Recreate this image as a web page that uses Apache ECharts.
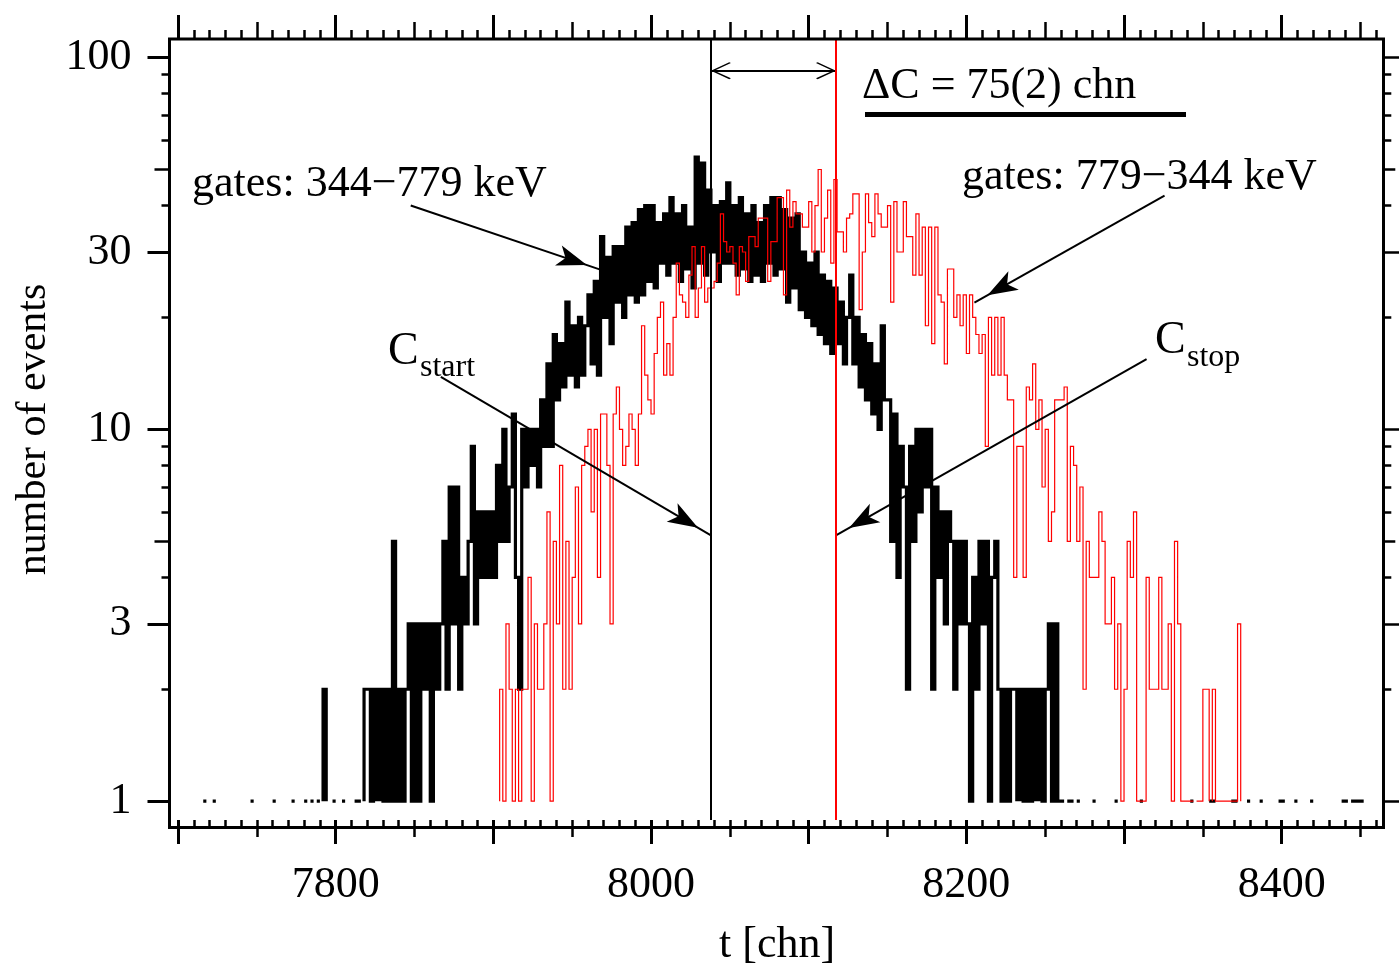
<!DOCTYPE html>
<html>
<head>
<meta charset="utf-8">
<script src="https://cdn.jsdelivr.net/npm/echarts@6/dist/echarts.min.js"></script>
<style>html,body{margin:0;padding:0;background:#fff}#chart{width:1399px;height:972px}</style>
</head>
<body>
<div id="chart"></div>
<script>
// ---------------- data (counts per 2-channel bin) ----------------
const binWidth = 2;
const blackStart = 7710;   // gates: 344-779 keV
const blackCounts = [
  0,0,0,1,0,  0,1,0,0,0,  0,0,0,0,0,  0,0,0,1,0,  0,0,0,0,0,   // 7710-7759
  1,0,0,0,0,  0,1,0,0,0,  1,0,1,0,1,  0,2,0,0,1,                 // 7760-7799
  0,0,1,0,0,  0,1,1,0,2,  2,1,2,0,2,  1,2,1,5,1,  2,1,2,3,1,   // 7800-7849
  3,1,3,2,3,  1,3,2,3,5,  2,7,3,7,2,  4,3,5,9,3,  6,4,6,4,6,   // 7850-7899
  4,8,5,10,5, 7,11,4,2,10, 7,10,8,10,7, 12,9,15,9,18, 12,17,13,22,14,  // 7900-7949
  19,13,20,14,19, 23,15,25,14,33, 20,29,17,31,22, 31,20,35,23,36, 22,39,23,40,25, // 7950-7999
  40,24,36,28,38, 26,42,28,38,25, 40,27,35,24,54, 28,52,26,44,30, 40,25,41,28,46, // 8000-8049
  28,40,26,42,27, 38,25,40,26,36, 25,40,28,42,26, 42,27,39,22,37, 24,38,21,30,20, // 8050-8099
  28,19,30,18,26, 17,25,16,24,17, 22,15,20,26,15, 20,13,18,12,17, 11,15,10,19,12, // 8100-8149
  12,5,11,4,9, 7,2,9,5,10, 6,10,7,10,2, 7,4,6,3,6, 5,2,5,3,5,                     // 8150-8199
  3,1,4,2,5, 3,5,1,4,5, 2,1,2,1,2, 2,0,2,1,2, 1,2,0,2,1,                          // 8200-8249
  2,3,1,3,1, 1,0,1,1,0, 1,0,0,0,0, 1,0,0,0,0, 0,0,1,0,0,                          // 8250-8299
  0,0,0,0,0, 1,0,0,0,0, 0,0,0,0,0, 0,0,0,0,0, 0,1,0,0,0,                          // 8300-8349
  0,0,1,1,0, 0,0,0,0,1, 1,0,0,0,1, 0,0,0,1,0, 0,0,0,0,1,                          // 8350-8399
  1,0,0,0,1, 0,0,0,0,1, 0,0,0,0,0, 0,0,0,0,1, 1,0,1,1,1, 1,0,0,0,0                // 8400-8459
];
const redStart = 7900;     // gates: 779-344 keV
const redCounts = [
  0,0,2,1,3, 2,1,2,1,2, 2,4,1,3,2, 2,3,6,1,5, 3,8,2,5,2,                          // 7900-7949
  4,7,3,8,9, 10,6,10,4,11, 11,8,3,11,13, 10,8,9,11,10, 8,11,19,14,12,             // 7950-7999
  11,16,20,22,14, 17,14,20,28,23, 22,20,26,31,20, 24,31,22,24,24, 25,28,38,32,30, // 8000-8049
  31,28,23,31,30, 25,33,33,31,37, 37,37,25,32,32, 42,42,23,44,35, 41,38,38,35,35, // 8050-8099
  41,30,40,50,30, 37,44,28,47,34, 34,30,37,38,43, 43,21,30,43,36, 33,43,38,35,35, // 8100-8149
  40,22,41,30,30, 41,33,33,26,38, 26,35,19,35,17, 35,23,22,15,27, 27,20,23,19,23, // 8150-8199
  16,23,20,18,16, 18,9,20,14,20, 14,20,14,12,12, 4,9,9,4,13, 12,15,10,12,7,       // 8200-8249
  10,5,6,12,12, 12,13,5,9,8, 5,7,2,5,4, 4,4,6,5,3, 3,4,2,3,1,                     // 8250-8299
  2,5,4,6,1, 1,1,4,2,2, 2,4,2,2,3, 1,5,3,1,1, 1,1,0,1,1,                          // 8300-8349
  2,2,0,2,1, 1,1,1,1,1, 1,3,0,0,0                                                  // 8350-8379
];
const cStart = 8038;   // vertical line C_start
const cStop = 8117.3;  // vertical line C_stop

// axis ticks / labels
const xRange = [7700, 8460];
const yRange = [0.89, 112.2];
const xLabelValues = [7800, 8000, 8200, 8400];
const xMajorTicks = [7700, 7800, 7900, 8000, 8100, 8200, 8300, 8400];
const xMediumTicks = [7750, 7850, 7950, 8050, 8150, 8250, 8350, 8450];
const xMinorTicks = [];
for (let t = 7700; t <= 8460; t += 10) xMinorTicks.push(t);
const yLabelValues = [1, 3, 10, 30, 100];
const yMediumTicks = [5, 50];
const yMinorTicks = [2, 4, 6, 7, 8, 9, 20, 40, 60, 70, 80, 90];

// ---------------- helpers ----------------
function histOutline(start, w, vals) {
  const pts = [];
  let inRun = false;
  for (let i = 0; i < vals.length; i++) {
    const v = vals[i], x0 = start + i * w, x1 = x0 + w;
    if (v > 0) {
      if (!inRun) { pts.push([x0, 1]); inRun = true; }
      pts.push([x0, v]); pts.push([x1, v]);
    } else if (inRun) {
      pts.push([x0, 1]); pts.push([x0, '-']); inRun = false;
    }
  }
  if (inRun) pts.push([start + vals.length * w, 1]);
  return pts;
}

const FONT = 'Liberation Serif';
const tickStyle = w => ({ color: '#000', width: w });

function xAxisDef(pos, ticks, len, labels, extra) {
  return Object.assign({
    type: 'value', min: xRange[0], max: xRange[1], position: pos,
    axisLine: { show: false }, splitLine: { show: false },
    axisTick: { show: true, customValues: ticks, length: len, lineStyle: tickStyle(len > 20 ? 3 : 2.5) },
    axisLabel: labels ? { customValues: labels, margin: 43, fontFamily: FONT, fontSize: 44, color: '#000',
                          formatter: v => String(Math.round(v)) } : { show: false }
  }, extra || {});
}
function yAxisDef(pos, ticks, len, labels, extra) {
  return Object.assign({
    type: 'log', logBase: 10, min: yRange[0], max: yRange[1], position: pos,
    offset: pos === 'left' ? 8.5 : 8,
    axisLine: { show: false }, splitLine: { show: false }, minorTick: { show: false },
    axisTick: { show: true, customValues: ticks, length: len, lineStyle: tickStyle(len > 18 ? 3 : 2.5) },
    axisLabel: labels ? { customValues: labels, margin: 38, fontFamily: FONT, fontSize: 44, color: '#000',
                          formatter: v => String(Math.round(v)) } : { show: false }
  }, extra || {});
}

const arrowEnd = { symbol: 'arrow', symbolSize: [16, 30], symbolOffset: [0, '50%'] };
const chevron = 'path://M10,0 L20,11 L19,12 L10,2 L1,12 L0,11 Z';

const chart = echarts.init(document.getElementById('chart'), null, { renderer: 'canvas' });
chart.setOption({
  animation: false,
  backgroundColor: '#fff',
  grid: { left: 178, right: 22.7, top: 39, bottom: 144.5, show: false },
  xAxis: [
    xAxisDef('bottom', xMajorTicks, 24, xLabelValues, {
      name: 't [chn]', nameLocation: 'middle', nameGap: 103,
      nameTextStyle: { fontFamily: FONT, fontSize: 44, color: '#000' }
    }),
    xAxisDef('bottom', xMediumTicks, 17),
    xAxisDef('bottom', xMinorTicks, 9),
    xAxisDef('top', xMajorTicks, 24),
    xAxisDef('top', xMediumTicks, 17),
    xAxisDef('top', xMinorTicks, 9)
  ],
  yAxis: [
    yAxisDef('left', yLabelValues, 22, yLabelValues, {
      name: 'number of events', nameLocation: 'middle', nameGap: 115,
      nameTextStyle: { fontFamily: FONT, fontSize: 42, color: '#000' }
    }),
    yAxisDef('left', yMediumTicks, 15),
    yAxisDef('left', yMinorTicks, 8),
    yAxisDef('right', yLabelValues, 15),
    yAxisDef('right', yMediumTicks, 11),
    yAxisDef('right', yMinorTicks, 7)
  ],
  series: [
    {
      name: 'gates: 344−779 keV', type: 'line', xAxisIndex: 0, yAxisIndex: 0,
      data: histOutline(blackStart, binWidth, blackCounts),
      showSymbol: false, symbol: 'none', connectNulls: false, z: 2,
      lineStyle: { color: '#000', width: 3.2, join: 'miter' },
      markLine: {
        silent: true, animation: false, label: { show: false },
        lineStyle: { color: '#000', width: 2, type: 'solid' },
        symbol: ['none', 'none'],
        data: [
          { xAxis: cStart, lineStyle: { color: '#000', width: 2, type: 'solid' } },
          // arrow: gates 344-779 label -> black histogram
          [{ coord: [7847.6, 40.0], symbol: 'none' }, Object.assign({ coord: [7968.3, 26.85] }, arrowEnd)],
          // arrow: gates 779-344 label -> red histogram
          [{ coord: [8325.7, 42.56], symbol: 'none' }, Object.assign({ coord: [8205.1, 21.94] }, arrowEnd)],
          // arrow: C_start
          [{ coord: [7866.7, 13.85], symbol: 'none' }, Object.assign({ coord: [cStart, 5.19] }, arrowEnd)],
          // arrow: C_stop
          [{ coord: [8314.3, 15.46], symbol: 'none' }, Object.assign({ coord: [cStop, 5.19] }, arrowEnd)],
          // double arrow Delta C
          [{ coord: [cStart, 92.2], symbol: chevron, symbolSize: [17, 20], symbolOffset: [0, '50%'] },
           { coord: [cStop, 92.2], symbol: chevron, symbolSize: [17, 20], symbolOffset: [0, '50%'] }]
        ]
      }
    },
    {
      name: 'gates: 779−344 keV', type: 'line', xAxisIndex: 0, yAxisIndex: 0,
      data: histOutline(redStart, binWidth, redCounts),
      showSymbol: false, symbol: 'none', connectNulls: false, z: 3,
      lineStyle: { color: '#ff0000', width: 1.2, join: 'miter' },
      markLine: {
        silent: true, animation: false, label: { show: false }, symbol: ['none', 'none'],
        data: [{ xAxis: cStop, lineStyle: { color: '#ff0000', width: 2, type: 'solid' } }]
      }
    }
  ],
  graphic: [
    { type: 'rect', z: 100, silent: true, shape: { x: 169.5, y: 39, width: 1214, height: 788.5 },
      style: { fill: 'none', stroke: '#000', lineWidth: 3 } },
    { type: 'text', z: 100, left: 192, top: 162, style: { text: 'gates: 344−779 keV', font: '44px "Liberation Serif"', fill: '#000' } },
    { type: 'text', z: 100, left: 962, top: 155, style: { text: 'gates: 779−344 keV', font: '44px "Liberation Serif"', fill: '#000' } },
    { type: 'text', z: 100, left: 862, top: 64, style: { text: 'ΔC = 75(2) chn', font: '44px "Liberation Serif"', fill: '#000' } },
    { type: 'rect', z: 100, shape: { x: 865, y: 112, width: 321, height: 5 }, style: { fill: '#000' } },
    { type: 'text', z: 100, left: 388, top: 329, style: { text: 'C', font: '46px "Liberation Serif"', fill: '#000' } },
    { type: 'text', z: 100, left: 420, top: 352, style: { text: 'start', font: '32px "Liberation Serif"', fill: '#000' } },
    { type: 'text', z: 100, left: 1155, top: 318, style: { text: 'C', font: '46px "Liberation Serif"', fill: '#000' } },
    { type: 'text', z: 100, left: 1187, top: 342, style: { text: 'stop', font: '32px "Liberation Serif"', fill: '#000' } }
  ]
});
</script>
</body>
</html>
